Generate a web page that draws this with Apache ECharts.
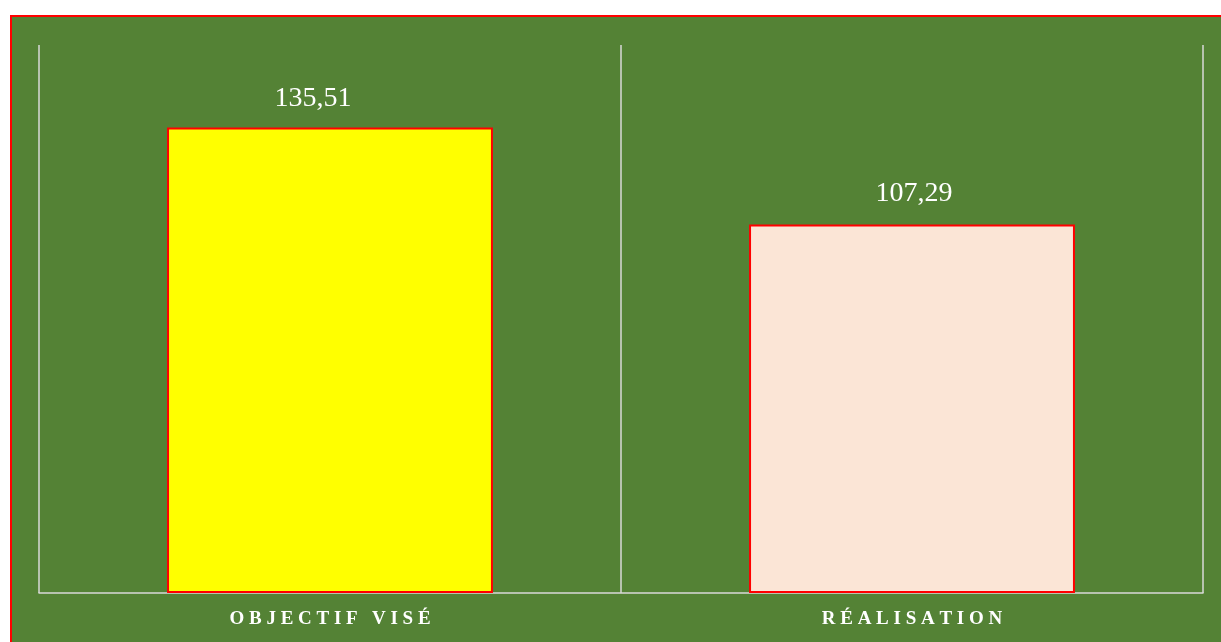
<!DOCTYPE html>
<html>
<head>
<meta charset="utf-8">
<script src="https://cdn.jsdelivr.net/npm/echarts@6/dist/echarts.min.js"></script>
<style>
  html, body { margin: 0; padding: 0; background: #ffffff; overflow: hidden; width: 1221px; height: 642px; }
  #frame { position: absolute; left: 10px; top: 15px; width: 1300px; height: 700px;
           border-left: 2px solid #ff0000; border-top: 2px solid #ff0000; background: #548235; }
  #chart { position: absolute; left: 0; top: 0; width: 1209px; height: 625px; }
</style>
</head>
<body>
<div id="frame"><div id="chart"></div></div>
<script>
const categories = ['OBJECTIF VISÉ', 'RÉALISATION'];
const values = [135.51, 107.29];
const barColors = ['#ffff00', '#fbe5d6'];

const serif = '"Liberation Serif", "Times New Roman", serif';
const labelOffsets = [[-17, 0], [2, -2]];

function spaced(text) {
  return text.split('').map(c => c === ' ' ? '{w| }' : '{t|' + c + '}').join('{g| }');
}

const chart = echarts.init(document.getElementById('chart'), null, { renderer: 'canvas' });
chart.setOption({
  backgroundColor: 'transparent',
  animation: false,
  grid: { left: 27, top: 28, width: 1164, height: 548, containLabel: false },
  xAxis: {
    type: 'category',
    data: categories,
    boundaryGap: true,
    axisLine: { show: true, lineStyle: { color: '#d9d9d9', width: 1.5 } },
    axisTick: { show: false },
    splitLine: { show: true, interval: 0, lineStyle: { color: '#d9d9d9', width: 1.5 } },
    axisLabel: {
      interval: 0,
      margin: 16,
      color: '#ffffff',
      fontFamily: serif,
      fontWeight: 'bold',
      fontSize: 19,
      formatter: v => spaced(v),
      rich: {
        t: { color: '#ffffff', fontFamily: serif, fontWeight: 'bold', fontSize: 19, lineHeight: 20 },
        w: { color: '#ffffff', fontFamily: serif, fontWeight: 'bold', fontSize: 19, lineHeight: 20 },
        g: { color: '#ffffff', fontFamily: serif, fontSize: 19, lineHeight: 20 }
      }
    }
  },
  yAxis: {
    type: 'value',
    min: 0,
    max: 159.5,
    show: false,
    splitLine: { show: false }
  },
  series: [{
    type: 'bar',
    barWidth: '56%',
    data: values.map((v, i) => ({
      value: v,
      itemStyle: { color: barColors[i], borderColor: '#ff0000', borderWidth: 2 },
      label: { offset: labelOffsets[i] }
    })),
    label: {
      show: true,
      position: 'top',
      distance: 15,
      color: '#ffffff',
      fontFamily: serif,
      fontSize: 28,
      formatter: p => p.value.toFixed(2).replace('.', ',')
    }
  }]
});
</script>
</body>
</html>
